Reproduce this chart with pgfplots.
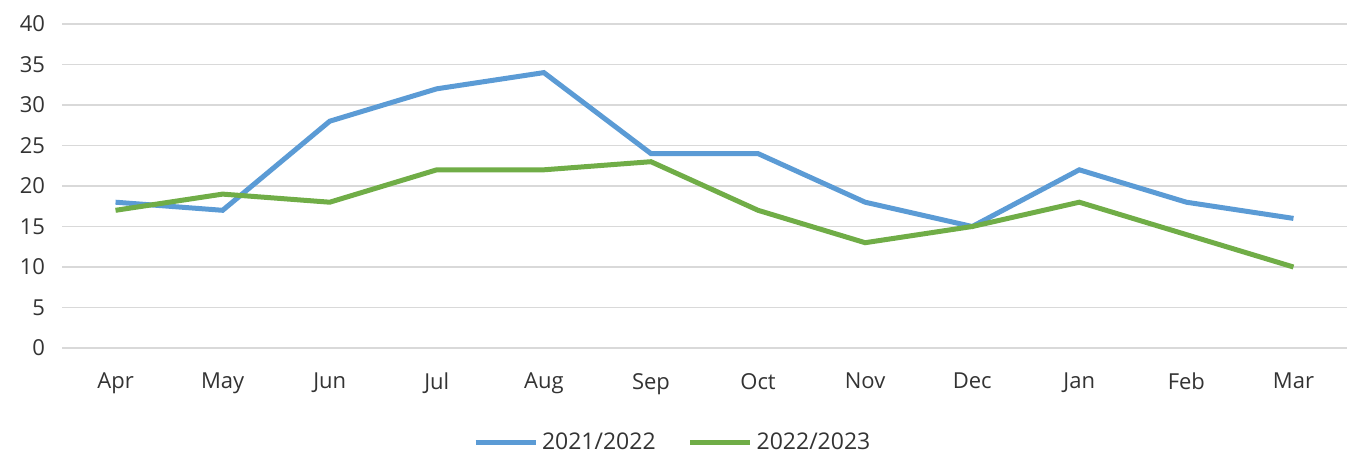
\documentclass[border=0pt]{standalone}
\usepackage{fontspec}
\setmainfont{Open Sans}
\usepackage{pgfplots}
\pgfplotsset{compat=1.18}
\definecolor{sblue}{HTML}{5B9BD5}
\definecolor{sgreen}{HTML}{70AD47}
\definecolor{gridc}{HTML}{D9D9D9}
\definecolor{txt}{HTML}{333333}
\begin{document}
\begin{tikzpicture}[x=1pt,y=1pt]
\useasboundingbox (0,0) rectangle (677,228.5);
\begin{axis}[
  at={(31pt,54.5pt)}, anchor=south west,
  scale only axis, width=642.5pt, height=162pt,
  xmin=-0.5, xmax=11.5, ymin=0, ymax=40,
  xtick=data,
  xticklabels={Apr,May,Jun,Jul,Aug,Sep,Oct,Nov,Dec,Jan,Feb,Mar},
  ytick={0,5,...,40},
  xmajorgrids=false, ymajorgrids=true,
  grid style={draw=gridc, line width=0.75pt},
  axis line style={draw=none},
  major tick length=0pt,
  tick label style={font=\fontsize{11}{13}\selectfont, text=txt},
  /pgf/number format/assume math mode=true,
  yticklabel style={anchor=east, xshift=-5pt},
  xticklabel style={anchor=north, yshift=-9pt},
  legend columns=2,
  legend style={at={(0.476,-0.293)}, anchor=center, draw=none, fill=none,
    font=\fontsize{11.5}{13}\selectfont, text=txt,
    /tikz/every even column/.append style={column sep=14pt}},
  legend image code/.code={\draw[#1] (0pt,0pt) -- (30pt,0pt);},
  legend cell align=left,
]
\addplot[sblue, line width=2.5pt, no markers] coordinates {
(0,18) (1,17) (2,28) (3,32) (4,34) (5,24) (6,24) (7,18) (8,15) (9,22) (10,18) (11,16)};
\addlegendentry{2021/2022}
\addplot[sgreen, line width=2.5pt, no markers] coordinates {
(0,17) (1,19) (2,18) (3,22) (4,22) (5,23) (6,17) (7,13) (8,15) (9,18) (10,14) (11,10)};
\addlegendentry{2022/2023}
\end{axis}
\end{tikzpicture}
\end{document}
